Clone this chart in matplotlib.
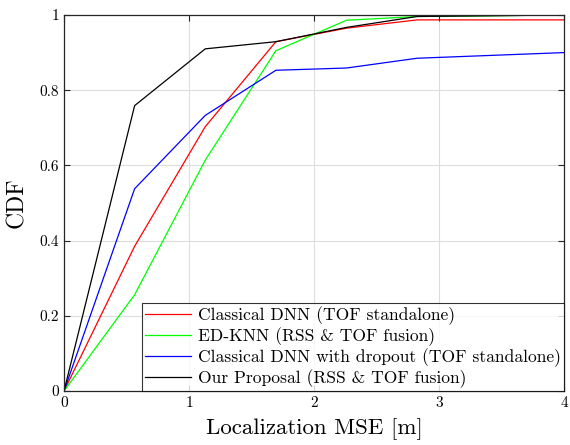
import numpy as np
import matplotlib
matplotlib.use("Agg")
import matplotlib.pyplot as plt

plt.rcParams['font.family'] = ['cmr10', 'DejaVu Serif']
plt.rcParams['mathtext.fontset'] = 'cm'
plt.rcParams['axes.unicode_minus'] = False
plt.rcParams['axes.formatter.use_mathtext'] = True

# Localization error samples (m) and CDF values
mse = [0, 0.565, 1.13, 1.695, 2.26, 2.825, 4.0]
cdf_dnn = [0, 0.385, 0.703, 0.929, 0.965, 0.987, 0.987]
cdf_edknn = [0, 0.256, 0.614, 0.905, 0.986, 0.996, 1.0]
cdf_dropout = [0, 0.538, 0.733, 0.853, 0.859, 0.885, 0.9]
cdf_ours = [0, 0.759, 0.910, 0.929, 0.967, 0.996, 1.0]

labels = ['Classical DNN (TOF standalone)',
          'ED-KNN (RSS & TOF fusion)',
          'Classical DNN with dropout (TOF standalone)',
          'Our Proposal (RSS & TOF fusion)']
colors = ['#ff0000', '#00ff00', '#0000ff', '#000000']

fig = plt.figure(figsize=(5.7, 4.45), dpi=100)
ax = fig.add_axes([0.1123, 0.1213, 0.8772, 0.845])

for ys, lab, c in zip([cdf_dnn, cdf_edknn, cdf_dropout, cdf_ours], labels, colors):
    ax.plot(mse, ys, color=c, linewidth=0.9, label=lab)

ax.set_xlim(0, 4)
ax.set_ylim(0, 1)
ax.set_xticks([0, 1, 2, 3, 4])
ax.set_yticks([0, 0.2, 0.4, 0.6, 0.8, 1])
ax.set_xticklabels(['0', '1', '2', '3', '4'])
ax.set_yticklabels(['0', '0.2', '0.4', '0.6', '0.8', '1'])
ax.grid(True, color='#dddddd', linewidth=0.8)
ax.set_axisbelow(True)
ax.tick_params(direction='in', top=True, right=True, labelsize=11, length=4, color='#262626')
for s in ax.spines.values():
    s.set_color('#262626')
    s.set_linewidth(0.9)

ax.set_xlabel('Localization MSE [m]', fontsize=16.5, labelpad=6)
ax.set_ylabel('CDF', fontsize=17, labelpad=8)

leg = ax.legend(loc='lower right', fontsize=12.6, frameon=True, fancybox=False,
                edgecolor='black', borderpad=0.2, labelspacing=0.12,
                handlelength=2.6, handletextpad=0.4, borderaxespad=0)
leg.get_frame().set_linewidth(0.8)

fig.savefig('out.png', dpi=100)
